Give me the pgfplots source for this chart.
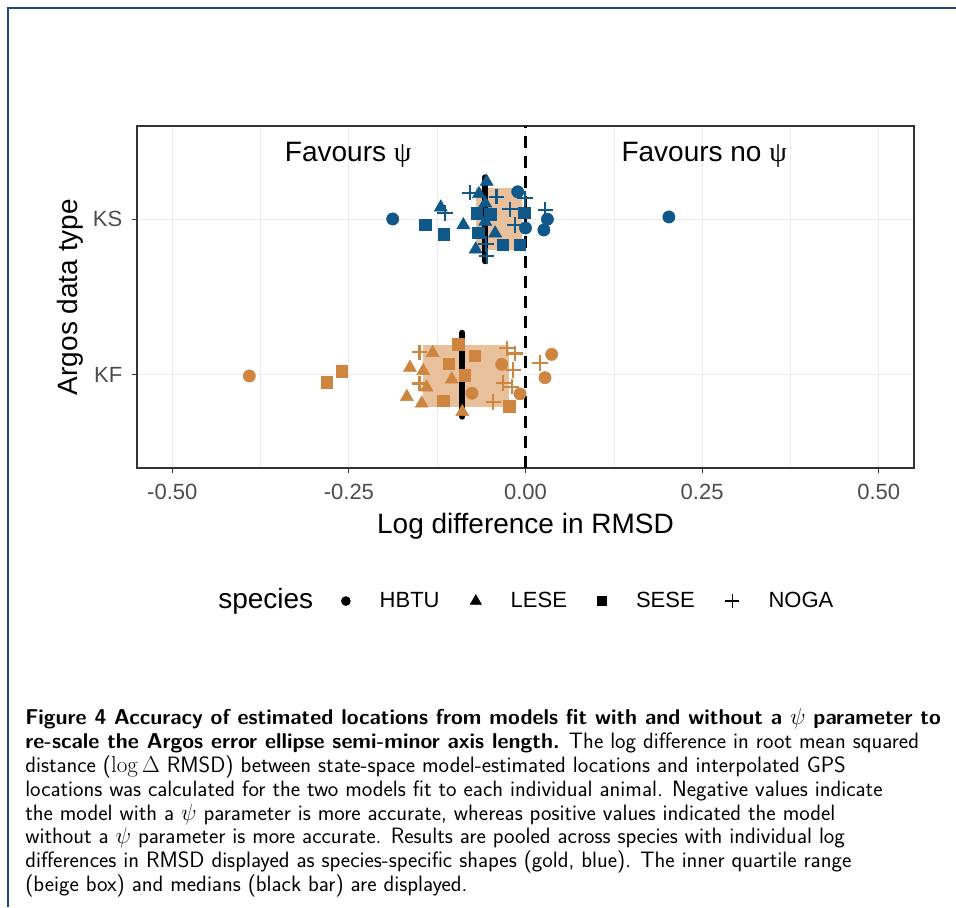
\documentclass[border=0pt]{standalone}
\usepackage{pgfplots}
\pgfplotsset{compat=1.18}
\usepackage[no-math]{fontspec}
\setmainfont{Liberation Sans}
\newfontfamily\psifont{Liberation Serif}

\definecolor{ksblue}{RGB}{16,88,138}
\definecolor{kfgold}{RGB}{205,133,63}
\definecolor{boxbeige}{RGB}{232,192,156}
\definecolor{frameblue}{RGB}{30,70,130}
\definecolor{gridgray}{RGB}{235,235,235}

\newcommand{\capbf}[1]{{\fontsize{16.1}{17.9}\selectfont\bfseries #1}}

\begin{document}
\begin{tikzpicture}
% page in pixel units, y down
\begin{scope}[x=0.75pt,y=-0.75pt]
  \path[use as bounding box] (0,0) rectangle (956,907);
  \draw[frameblue, line width=1.5pt] (8,907) -- (8,8) -- (956,8);
  \node[anchor=base west, inner sep=0pt, font=\fontsize{21}{24}\selectfont] at (218,608) {species};
  \node[anchor=base west, inner sep=0pt, align=left,
        font=\sffamily\fontsize{16.7}{17.9}\selectfont] at (25,891.6) {%
    \capbf{Figure 4 Accuracy of estimated locations from models fit with and without a $\psi$ parameter to}\\
    \capbf{re-scale the Argos error ellipse semi-minor axis length.} The log difference in root mean squared\\
    distance ($\log\Delta$ RMSD) between state-space model-estimated locations and interpolated GPS\\
    locations was calculated for the two models fit to each individual animal. Negative values indicate\\
    the model with a $\psi$ parameter is more accurate, whereas positive values indicated the model\\
    without a $\psi$ parameter is more accurate. Results are pooled across species with individual log\\
    differences in RMSD displayed as species-specific shapes (gold, blue). The inner quartile range\\
    (beige box) and medians (black bar) are displayed.};
\end{scope}

\begin{axis}[
  at={(102.75pt,-351pt)}, anchor=south west,
  scale only axis, width=582.75pt, height=256.5pt,
  xmin=-0.55, xmax=0.55, ymin=0.4, ymax=2.6,
  xtick={-0.5,-0.25,0,0.25,0.5},
  xticklabels={-0.50,-0.25,0.00,0.25,0.50},
  minor xtick={-0.375,-0.125,0.125,0.375},
  ytick={1,2}, yticklabels={KF,KS},
  xmajorgrids, xminorgrids, ymajorgrids,
  major grid style={gridgray, line width=0.7pt},
  minor grid style={gridgray, line width=0.4pt},
  axis line style={black!80, line width=0.8pt},
  tick style={black!80, line width=0.8pt},
  tick align=outside, major tick length=3.75pt, minor tick length=0pt,
  xtick pos=lower, ytick pos=left,
  ticklabel style={font=\fontsize{16.5}{18}\selectfont, text=black!70},
  xticklabel style={yshift=-4.5pt},
  yticklabel style={xshift=-3.75pt},
  xlabel={Log difference in RMSD}, ylabel={Argos data type},
  label style={font=\fontsize{21}{24}\selectfont},
  xlabel style={yshift=-3.75pt},
  ylabel style={yshift=0pt},
  legend columns=4,
  legend style={at={(0.2626,-0.389)}, anchor=west, draw=none, fill=none,
    inner sep=0pt, font=\fontsize{16.5}{18}\selectfont,
    /tikz/every odd column/.append style={column sep=20pt},
    /tikz/every even column/.append style={column sep=21pt}},
  legend cell align=left,
]

% inner quartile boxes
\addplot[fill=boxbeige, draw=none, forget plot] coordinates {(-0.0705,1.8) (-0.005,1.8) (-0.005,2.2) (-0.0705,2.2)} -- cycle;
\addplot[fill=boxbeige, draw=none, forget plot] coordinates {(-0.1456,0.79) (-0.023,0.79) (-0.023,1.19) (-0.1456,1.19)} -- cycle;

% zero line
\addplot[black, line width=1.9pt, dash pattern=on 9pt off 6pt, forget plot] coordinates {(0,0.4) (0,2.6)};

% medians
\addplot[black, line width=4.5pt, line cap=round, forget plot] coordinates {(-0.057,1.73) (-0.057,2.27)};
\addplot[black, line width=4.5pt, line cap=round, forget plot] coordinates {(-0.0895,0.73) (-0.0895,1.27)};

% KS (blue)
\addplot[only marks, ksblue, mark=*, mark size=4.6pt, mark options={draw=none}, forget plot] coordinates {
(-0.188,2.002) (-0.011,2.177) (0.031,2.000) (0.026,1.931) (0.000,1.944) (0.203,2.015)};
\addplot[only marks, ksblue, mark=triangle*, mark size=5.6pt, mark options={draw=none}, forget plot] coordinates {
(-0.055,2.242) (-0.066,2.163) (-0.057,2.103) (-0.057,1.985) (-0.043,1.910) (-0.0705,1.807) (-0.088,1.963) (-0.120,2.077)};
\addplot[only marks, ksblue, mark=square*, mark size=4.3pt, mark options={draw=none}, forget plot] coordinates {
(-0.142,1.963) (-0.116,1.905) (-0.069,2.039) (-0.050,2.033) (-0.067,1.914) (-0.032,1.835) (-0.008,1.835) (-0.002,2.042)};
\addplot[only marks, ksblue, mark=+, mark size=5.8pt, mark options={line width=1.6pt}, forget plot] coordinates {
(-0.079,2.171) (-0.041,2.145) (-0.114,2.039) (-0.022,2.064) (-0.001,2.135) (0.028,2.060) (-0.015,1.963) (-0.056,1.841) (-0.055,1.764)};

% KF (gold)
\addplot[only marks, kfgold, mark=*, mark size=4.6pt, mark options={draw=none}, forget plot] coordinates {
(-0.391,0.992) (-0.0758,0.881) (-0.0337,1.067) (-0.0078,0.877) (0.037,1.131) (0.0276,0.981)};
\addplot[only marks, kfgold, mark=triangle*, mark size=5.6pt, mark options={draw=none}, forget plot] coordinates {
(-0.1315,1.141) (-0.1636,1.046) (-0.1448,1.025) (-0.1045,0.970) (-0.140,0.918) (-0.168,0.858) (-0.147,0.815) (-0.0895,0.761)};
\addplot[only marks, kfgold, mark=square*, mark size=4.3pt, mark options={draw=none}, forget plot] coordinates {
(-0.2816,0.951) (-0.2604,1.022) (-0.0952,1.197) (-0.0715,1.122) (-0.1088,1.071) (-0.0857,0.998) (-0.1164,0.831) (-0.023,0.797)};
\addplot[only marks, kfgold, mark=+, mark size=5.8pt, mark options={line width=1.6pt}, forget plot] coordinates {
(-0.150,1.144) (-0.150,0.944) (-0.0266,1.170) (-0.0149,1.137) (-0.0173,1.030) (-0.0314,0.948) (-0.0196,0.923) (-0.0456,0.826) (0.0206,1.074)};

% annotations
\node[font=\fontsize{21}{24}\selectfont] at (axis cs:-0.251,2.413) {Favours {\psifont ψ}};
\node[font=\fontsize{21}{24}\selectfont] at (axis cs:0.253,2.413) {Favours no {\psifont ψ}};

% legend
\addlegendimage{only marks, black, mark=*, mark size=3.4pt}
\addlegendentry{HBTU}
\addlegendimage{only marks, black, mark=triangle*, mark size=4.8pt}
\addlegendentry{LESE}
\addlegendimage{only marks, black, mark=square*, mark size=3.4pt}
\addlegendentry{SESE}
\addlegendimage{only marks, black, mark=+, mark size=5.2pt, mark options={line width=1pt}}
\addlegendentry{NOGA}
\end{axis}
\end{tikzpicture}
\end{document}
